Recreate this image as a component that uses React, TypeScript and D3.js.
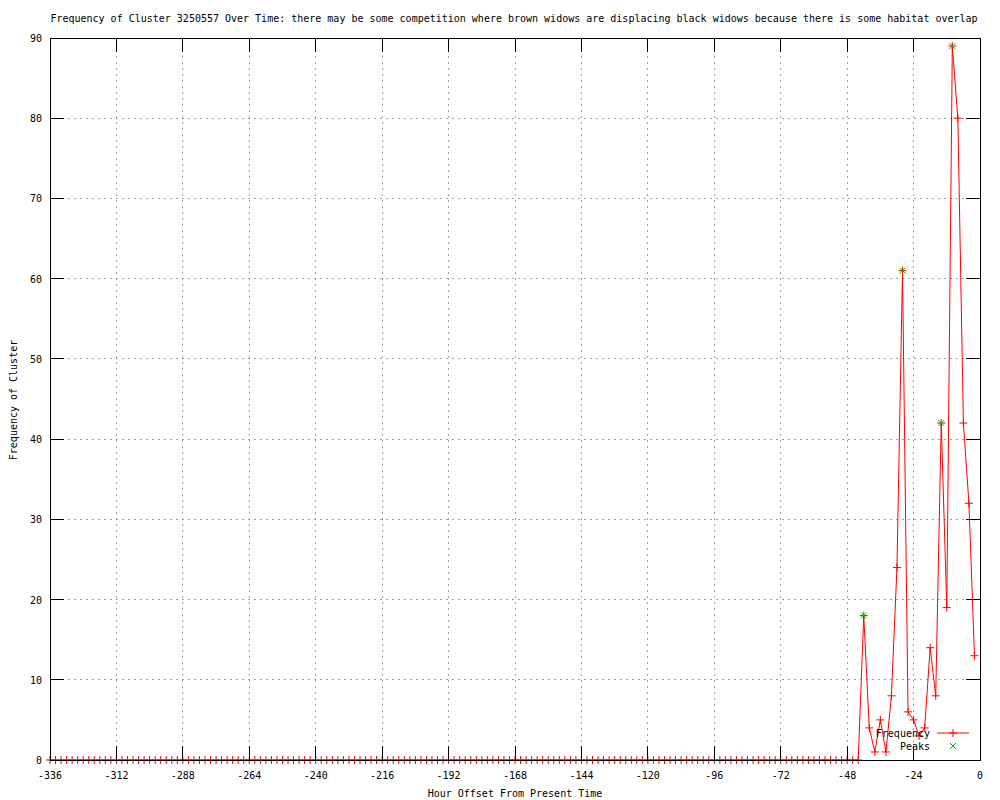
import React from "react";
import * as d3 from "d3";

const TITLE =
  "Frequency of Cluster 3250557 Over Time: there may be some competition where brown widows are displacing black widows because there is some habitat overlap";
const X_LABEL = "Hour Offset From Present Time";
const Y_LABEL = "Frequency of Cluster";

const START_HOUR = -336;
const HOUR_STEP = 2;

// frequency per 2-hour bin, from -336 to -2
const frequency: number[] = [
  0, 0, 0, 0, 0, 0, 0, 0, 0, 0, 0, 0, 0, 0, 0, 0, 0, 0, 0, 0, 0,
  0, 0, 0, 0, 0, 0, 0, 0, 0, 0, 0, 0, 0, 0, 0, 0, 0, 0, 0, 0, 0,
  0, 0, 0, 0, 0, 0, 0, 0, 0, 0, 0, 0, 0, 0, 0, 0, 0, 0, 0, 0, 0,
  0, 0, 0, 0, 0, 0, 0, 0, 0, 0, 0, 0, 0, 0, 0, 0, 0, 0, 0, 0, 0,
  0, 0, 0, 0, 0, 0, 0, 0, 0, 0, 0, 0, 0, 0, 0, 0, 0, 0, 0, 0, 0,
  0, 0, 0, 0, 0, 0, 0, 0, 0, 0, 0, 0, 0, 0, 0, 0, 0, 0, 0, 0, 0,
  0, 0, 0, 0, 0, 0, 0, 0, 0, 0, 0, 0, 0, 0, 0, 0, 0, 0, 0, 0, 0,
  18, 4, 1, 5, 1, 8, 24, 61, 6, 5, 3, 4, 14, 8, 42, 19, 89, 80, 42, 32, 13,
];

const peakHours: number[] = [-42, -28, -14, -10];
const peakValues: number[] = [18, 61, 42, 89];

const xTicks: number[] = [-336, -312, -288, -264, -240, -216, -192, -168, -144, -120, -96, -72, -48, -24, 0];
const yTicks: number[] = [0, 10, 20, 30, 40, 50, 60, 70, 80, 90];

const W = 1000;
const H = 800;
const L = 50;
const R = 980;
const T = 38;
const B = 760;
const FONT = "'DejaVu Sans Mono', monospace";
const RED = "#ff0000";
const GREEN = "#00c000";

export default function App() {
  const x = d3.scaleLinear().domain([-336, 0]).range([L, R]);
  const y = d3.scaleLinear().domain([0, 90]).range([B, T]);
  const pts = frequency.map((v, i) => ({ h: START_HOUR + i * HOUR_STEP, v }));
  const line = d3
    .line<{ h: number; v: number }>()
    .x((d) => x(d.h))
    .y((d) => y(d.v));
  const tick = 14;
  const m = 4;

  const plus = (cx: number, cy: number, key: string, color: string) => (
    <g key={key} stroke={color} strokeWidth={1}>
      <line x1={cx - m} x2={cx + m} y1={cy} y2={cy} />
      <line x1={cx} x2={cx} y1={cy - m} y2={cy + m} />
    </g>
  );
  const cross = (cx: number, cy: number, key: string, color: string) => (
    <g key={key} stroke={color} strokeWidth={1}>
      <line x1={cx - 3} x2={cx + 3} y1={cy - 3} y2={cy + 3} />
      <line x1={cx - 3} x2={cx + 3} y1={cy + 3} y2={cy - 3} />
    </g>
  );

  return (
    <svg
      width={W}
      height={H}
      style={{ position: "absolute", left: 0, top: 0, background: "#fff" }}
      fontFamily={FONT}
      fontSize={10}
    >
      <rect x={0} y={0} width={W} height={H} fill="#fff" />
      {/* grid */}
      <g stroke="#a0a0a0" strokeWidth={1} strokeDasharray="2,4" shapeRendering="crispEdges">
        {xTicks.slice(1, -1).map((t) => (
          <line key={"gx" + t} x1={x(t)} x2={x(t)} y1={T} y2={B} />
        ))}
        {yTicks.slice(1, -1).map((t) => (
          <line key={"gy" + t} x1={L} x2={R} y1={y(t)} y2={y(t)} />
        ))}
      </g>
      {/* data */}
      <path d={line(pts) || ""} fill="none" stroke={RED} strokeWidth={1} />
      {pts.map((p, i) => plus(x(p.h), y(p.v), "p" + i, RED))}
      {peakHours.map((h, i) => cross(x(h), y(peakValues[i]), "k" + i, GREEN))}
      {/* border and ticks */}
      <g stroke="#000" strokeWidth={1} shapeRendering="crispEdges">
        <rect x={L} y={T} width={R - L} height={B - T} fill="none" />
        {xTicks.map((t) => (
          <g key={"tx" + t}>
            <line x1={x(t)} x2={x(t)} y1={B} y2={B - tick} />
            <line x1={x(t)} x2={x(t)} y1={T} y2={T + tick} />
          </g>
        ))}
        {yTicks.map((t) => (
          <g key={"ty" + t}>
            <line x1={L} x2={L + tick} y1={y(t)} y2={y(t)} />
            <line x1={R} x2={R - tick} y1={y(t)} y2={y(t)} />
          </g>
        ))}
      </g>
      {/* tick labels */}
      {xTicks.map((t) => (
        <text key={"lx" + t} x={x(t)} y={779} textAnchor="middle" fill="#000">
          {String(t)}
        </text>
      ))}
      {yTicks.map((t) => (
        <text key={"ly" + t} x={42} y={y(t) + 4} textAnchor="end" fill="#000">
          {String(t)}
        </text>
      ))}
      {/* titles */}
      <text x={514} y={22} textAnchor="middle" fill="#000">
        {TITLE}
      </text>
      <text x={515} y={797} textAnchor="middle" fill="#000">
        {X_LABEL}
      </text>
      <text x={17} y={400} textAnchor="middle" fill="#000" transform="rotate(-90 17 400)">
        {Y_LABEL}
      </text>
      {/* legend */}
      <text x={930} y={737} textAnchor="end" fill="#000">
        Frequency
      </text>
      <line x1={937} x2={969} y1={733} y2={733} stroke={RED} strokeWidth={1} />
      {plus(953, 733, "lg1", RED)}
      <text x={930} y={750} textAnchor="end" fill="#000">
        Peaks
      </text>
      {cross(953, 746, "lg2", GREEN)}
    </svg>
  );
}
